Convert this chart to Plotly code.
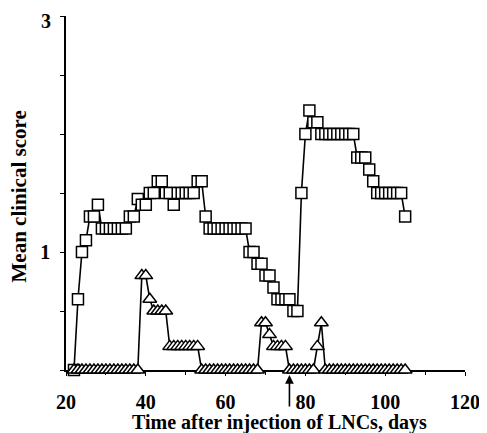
import plotly.graph_objects as go

# Day after injection of LNCs
DAYS = [22, 23, 24, 25, 26, 27, 28, 29, 30, 31, 32, 33, 34, 35, 36, 37, 38, 39, 40, 41,
        42, 43, 44, 45, 46, 47, 48, 49, 50, 51, 52, 53, 54, 55, 56, 57, 58, 59, 60, 61,
        62, 63, 64, 65, 66, 67, 68, 69, 70, 71, 72, 73, 74, 75, 76, 77, 78, 79, 80, 81,
        82, 83, 84, 85, 86, 87, 88, 89, 90, 91, 92, 93, 94, 95, 96, 97, 98, 99, 100, 101,
        102, 103, 104, 105]

# Mean clinical score, squares series
SQUARES = [0, 0.6, 1.0, 1.1, 1.3, 1.3, 1.4,
           1.2, 1.2, 1.2, 1.2, 1.2, 1.2, 1.2,
           1.3, 1.3, 1.45, 1.4, 1.4, 1.5, 1.5, 1.6, 1.6, 1.5, 1.5, 1.4, 1.5, 1.5, 1.5, 1.5,
           1.5, 1.6, 1.6, 1.3,
           1.2, 1.2, 1.2, 1.2, 1.2, 1.2, 1.2, 1.2, 1.2, 1.2,
           1.0, 1.0, 0.9, 0.9, 0.8, 0.8, 0.7, 0.6, 0.6, 0.6, 0.6, 0.5, 0.5,
           1.5, 2.0, 2.2, 2.1, 2.1,
           2.0, 2.0, 2.0, 2.0, 2.0, 2.0, 2.0, 2.0, 2.0,
           1.8, 1.8, 1.8, 1.7, 1.6,
           1.5, 1.5, 1.5, 1.5, 1.5, 1.5, 1.5,
           1.3]

# Mean clinical score, triangles series
TRIANGLES = [0, 0, 0, 0, 0, 0, 0, 0, 0, 0, 0, 0, 0, 0, 0, 0, 0,
             0.8, 0.8, 0.6, 0.5, 0.5, 0.5, 0.5, 0.2, 0.2, 0.2, 0.2, 0.2, 0.2, 0.2, 0.2,
             0, 0, 0, 0, 0, 0, 0, 0, 0, 0, 0, 0, 0, 0, 0,
             0.4, 0.4, 0.3, 0.2, 0.2, 0.2, 0.2,
             0, 0, 0, 0, 0, 0, 0,
             0.2, 0.4,
             0, 0, 0, 0, 0, 0, 0, 0, 0, 0, 0, 0, 0, 0, 0, 0, 0, 0, 0, 0, 0]

ARROW_DAY = 76

X_TICKS = [20, 40, 60, 80, 100, 120]
Y_TICKS = [0, 0.5, 1, 1.5, 2, 2.5, 3]
Y_TICKTEXT = ["", "", "1", "", "", "", ""]
Y_TOP_LABEL = "3"
Y_TOP = 3

FONT = "Liberation Serif"

fig = go.Figure()
fig.add_trace(go.Scatter(
    x=DAYS, y=SQUARES, mode="lines+markers",
    line=dict(color="black", width=1.6),
    marker=dict(symbol="square", size=11, color="white",
                line=dict(color="black", width=1.5)),
    cliponaxis=False, showlegend=False))
fig.add_trace(go.Scatter(
    x=DAYS, y=TRIANGLES, mode="lines+markers",
    line=dict(color="black", width=1.6),
    marker=dict(symbol="triangle-up", size=12, color="white",
                line=dict(color="black", width=1.5)),
    cliponaxis=False, showlegend=False))

# page has an 8px body margin, so the figure is 8px smaller than the window
fig.update_layout(
    width=479, height=425,
    margin=dict(l=58, r=22, t=8, b=63, autoexpand=False),
    paper_bgcolor="white", plot_bgcolor="white",
    font=dict(family=FONT, size=20, color="black", weight="bold"),
)
fig.update_xaxes(
    range=[20, 120], tickvals=X_TICKS, showgrid=False, zeroline=False,
    showline=True, linecolor="black", linewidth=1.5, layer="below traces",
    ticks="outside", ticklen=4, tickwidth=1.2, tickcolor="black",
    ticklabelstandoff=9, automargin=False, ticklabeloverflow="allow",
    minor=dict(dtick=10, ticks="outside", ticklen=3, tickcolor="black"),
    tickfont=dict(family=FONT, size=20, weight="bold"),
)
fig.update_yaxes(
    range=[0, 3], tickvals=Y_TICKS, ticktext=Y_TICKTEXT, showgrid=False,
    zeroline=False, showline=True, linecolor="black", linewidth=1.5,
    layer="below traces", automargin=False, ticklabeloverflow="allow",
    ticks="outside", ticklen=4, tickwidth=1.2, tickcolor="black",
    ticklabelstandoff=6,
    tickfont=dict(family=FONT, size=20, weight="bold"),
)

# top tick label, sitting slightly below its tick as in the reference
fig.add_annotation(
    text=Y_TOP_LABEL, xref="paper", yref="y", x=0, y=Y_TOP,
    xanchor="right", yanchor="middle", xshift=-13, yshift=-5,
    showarrow=False, font=dict(family=FONT, size=20, weight="bold"))

fig.add_annotation(
    text="Time after injection of LNCs, days", xref="paper", yref="paper",
    x=0.536, y=-0.147, xanchor="center", yanchor="middle", showarrow=False,
    font=dict(family=FONT, size=20, weight="bold"))
fig.add_annotation(
    text="Mean clinical score", xref="paper", yref="paper",
    x=-0.118, y=0.49, xanchor="center", yanchor="middle", textangle=-90,
    showarrow=False, font=dict(family=FONT, size=21, weight="bold"))
fig.add_annotation(
    x=ARROW_DAY, y=0, xref="x", yref="y", text="", showarrow=True,
    ax=0, ay=38, standoff=5, arrowhead=2, arrowsize=1.1, arrowwidth=1.6,
    arrowcolor="black")

fig.write_html("out.html")
